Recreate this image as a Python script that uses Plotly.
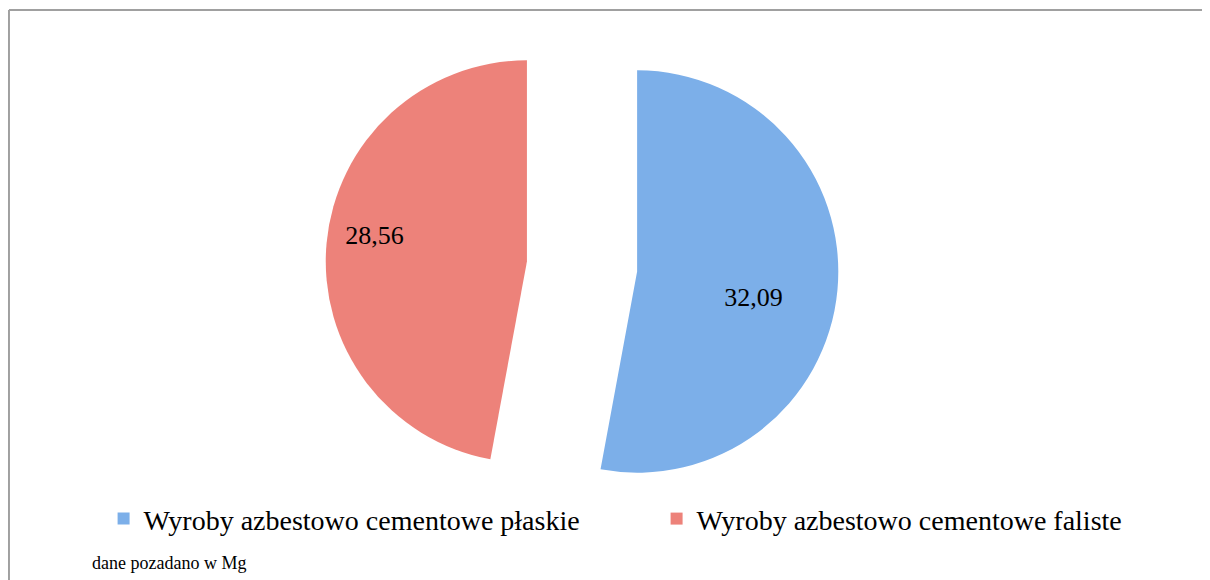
import plotly.graph_objects as go

categories = ["Wyroby azbestowo cementowe płaskie", "Wyroby azbestowo cementowe faliste"]
values = [32.09, 28.56]
colors = ["#7CAFE9", "#ED827A"]
note = "dane pozadano w Mg"

FONT = "Liberation Serif"
NB = "\u00a0"

# label templates: padding nudges the visible number to where the reference places it
templates = [
    NB + "<br>" + NB * 5 + "%{value:.2f}",
    "%{value:.2f}" + NB * 16 + "<br>" + NB,
]

fig = go.Figure(
    go.Pie(
        labels=categories,
        values=values,
        sort=False,
        direction="clockwise",
        rotation=0,
        pull=[0.275, 0.275],
        marker=dict(colors=colors, line=dict(width=0)),
        texttemplate=templates,
        textposition="inside",
        insidetextorientation="horizontal",
        textfont=dict(family=FONT, size=26, color="black"),
        domain=dict(x=[0, 0.9488], y=[0, 1]),
        hoverinfo="label+value",
    )
)

fig.update_layout(
    width=1210,
    height=580,
    separators=", ",
    paper_bgcolor="white",
    plot_bgcolor="white",
    margin=dict(l=0, r=0, t=2, b=65, autoexpand=False),
    font=dict(family=FONT, color="black"),
    legend=dict(
        orientation="h",
        x=0.079,
        xanchor="left",
        y=0.008,
        yanchor="middle",
        font=dict(family=FONT, size=28, color="black"),
        entrywidth=508,
        bgcolor="rgba(0,0,0,0)",
    ),
    annotations=[
        dict(
            text=note,
            xref="paper",
            yref="paper",
            x=0.0678,
            y=-0.078,
            xanchor="left",
            yanchor="middle",
            showarrow=False,
            font=dict(family=FONT, size=18, color="black"),
        )
    ],
    shapes=[
        dict(type="line", xref="paper", yref="paper", x0=0.0008, x1=1.0, y0=1.0, y1=1.0,
             line=dict(color="#A0A0A0", width=2)),
        dict(type="line", xref="paper", yref="paper", x0=0.0008, x1=0.0008, y0=1.0, y1=-0.14,
             line=dict(color="#A0A0A0", width=2)),
    ],
)

fig.write_html("out.html")
